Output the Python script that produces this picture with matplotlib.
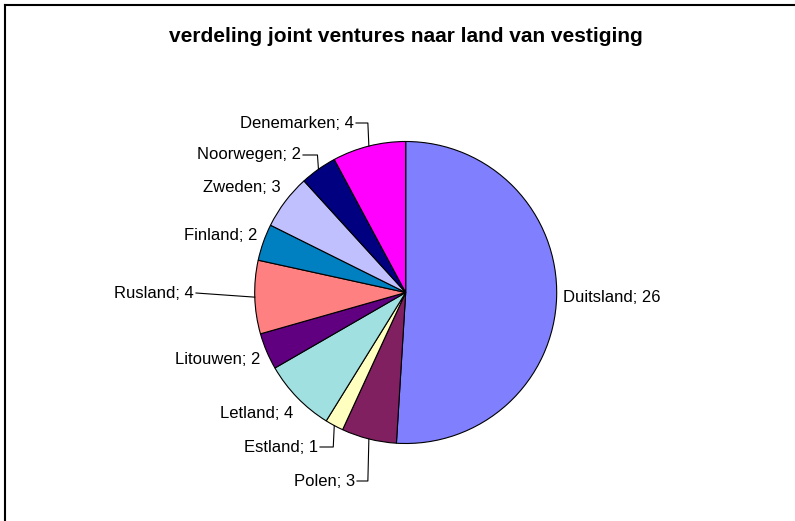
import numpy as np
import matplotlib
matplotlib.use("Agg")
import matplotlib.pyplot as plt
from matplotlib.lines import Line2D

plt.rcParams["font.family"] = ["Liberation Sans", "DejaVu Sans"]

title = "verdeling joint ventures naar land van vestiging"
countries = ["Duitsland", "Polen", "Estland", "Letland", "Litouwen",
             "Rusland", "Finland", "Zweden", "Noorwegen", "Denemarken"]
counts = [26, 3, 1, 4, 2, 4, 2, 3, 2, 4]
colors = ["#8080FF", "#802060", "#FFFFC0", "#A0E0E0", "#600080",
          "#FF8080", "#0080C0", "#C0C0FF", "#000080", "#FF00FF"]

# label layout in pixel coords (x anchor, y from top, ha, leader line?)
label_pos = [(563, 297, "left", False),
             (355, 481, "right", True),
             (318, 447, "right", True),
             (293, 414, "right", False),
             (260, 359, "right", False),
             (194, 293, "right", True),
             (257, 236, "right", False),
             (281, 188, "right", False),
             (301, 155, "right", True),
             (354, 123, "right", True)]

W, H = 795, 521
cx, cy, r = 405.7, 292.5, 151


def py(y):
    return H - y


fig = plt.figure(figsize=(W / 100, H / 100), dpi=100)
ax = fig.add_axes([0, 0, 1, 1])
wedges, _ = ax.pie(counts, colors=colors, startangle=90, counterclock=False,
                   center=(cx, py(cy)), radius=r,
                   wedgeprops=dict(edgecolor="black", linewidth=0.8))
ax.set_xlim(0, W)
ax.set_ylim(0, H)
ax.set_aspect("equal")
ax.axis("off")

total = sum(counts)
start = 90.0
for name, val, (lx, ly, ha, leader) in zip(countries, counts, label_pos):
    sweep = val / total * 360
    mid = np.deg2rad(start - sweep / 2)
    start -= sweep
    ax.text(lx, py(ly), f"{name}; {val}", ha=ha, va="center", fontsize=12)
    if leader:
        ex = cx + r * np.cos(mid)
        ey = py(cy) + r * np.sin(mid)
        x0 = lx + 2
        if abs(ey - py(ly)) < 10:
            ax.plot([x0, ex], [py(ly), ey], color="black", lw=0.8)
        else:
            ax.plot([x0, ex - 1, ex], [py(ly), py(ly), ey], color="black", lw=0.8)

fig.text(406 / W, 1 - 37 / H, title, ha="center", va="center",
         fontsize=15, fontweight="bold")

# chart frame (only left and top edges visible)
fig.add_artist(Line2D([5 / W, 5 / W], [0, 1 - 4.5 / H], color="black", lw=1.5))
fig.add_artist(Line2D([5 / W, 1], [1 - 4.5 / H, 1 - 4.5 / H], color="black", lw=1.5))

fig.savefig("out.png", dpi=100)
